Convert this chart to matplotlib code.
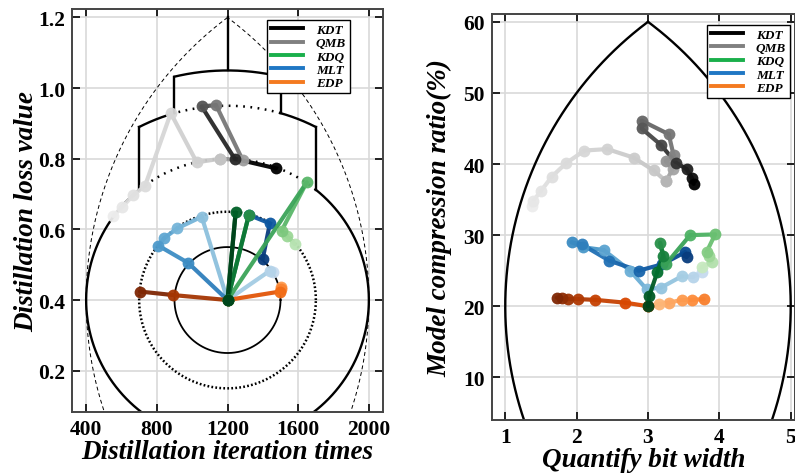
# Two panels: distillation trajectories (left) and quantization trajectories (right)

import numpy as np
import matplotlib.pyplot as plt
from matplotlib.lines import Line2D

plt.rcParams['font.family'] = ['Liberation Serif', 'DejaVu Serif']
plt.rcParams['font.weight'] = 'bold'

# ---- left panel data (iteration times, loss) ----
gray_light_iter = [554, 601, 667, 733, 879, 1026, 1158]
gray_light_loss = [0.638, 0.662, 0.697, 0.723, 0.929, 0.790, 0.800]
gray_dark_iter = [1158, 1286, 1135, 1054, 1241, 1474]
gray_dark_loss = [0.800, 0.796, 0.952, 0.948, 0.800, 0.773]

blue_iter = [1459, 1440, 1200, 1054, 916, 841, 809, 978, 1200]
blue_loss = [0.478, 0.483, 0.400, 0.636, 0.603, 0.575, 0.554, 0.505, 0.400]
blue2_iter = [1321, 1440, 1399]
blue2_loss = [0.641, 0.617, 0.516]

green_iter = [1581, 1534, 1506, 1648, 1200, 1321, 1200, 1246, 1200]
green_loss = [0.558, 0.582, 0.596, 0.733, 0.400, 0.641, 0.400, 0.648, 0.400]

orange_right_iter = [1500, 1500, 1497, 1200]
orange_right_loss = [0.436, 0.430, 0.424, 0.400]
orange_left_iter = [1200, 894, 705]
orange_left_loss = [0.400, 0.414, 0.424]

# ---- right panel data (bit width, compression ratio %) ----
gray_light_bits = [1.37, 1.39, 1.50, 1.65, 1.85, 2.11, 2.43, 2.80, 3.08, 3.25]
gray_light_ratio = [34.1, 34.8, 36.2, 38.2, 40.1, 41.9, 42.1, 40.9, 39.1, 37.6]
gray_dark_bits = [3.25, 3.35, 3.25, 3.36, 3.29, 2.91, 2.91, 3.18, 3.39, 3.54, 3.61, 3.64]
gray_dark_ratio = [37.6, 39.3, 40.4, 41.2, 44.2, 46.1, 45.0, 42.7, 40.2, 39.3, 38.1, 37.2]

blue_bits = [3.75, 3.63, 3.47, 3.18, 2.98, 2.75, 2.38, 2.09, 1.93, 2.07, 2.46, 2.87, 3.20, 3.52, 3.54]
blue_ratio = [24.8, 24.1, 24.2, 22.6, 22.4, 25.0, 27.9, 28.3, 29.0, 28.7, 26.4, 25.0, 25.9, 27.6, 26.9]

green_bits = [3.75, 3.89, 3.85, 3.82, 3.94, 3.59, 3.25, 3.17, 3.21, 3.13, 3.02, 3.00]
green_ratio = [25.5, 26.2, 27.1, 27.6, 30.1, 30.0, 25.9, 28.9, 27.1, 24.8, 21.5, 20.0]

orange_right_bits = [3.78, 3.61, 3.47, 3.30, 3.15, 3.00]
orange_right_ratio = [21.0, 20.9, 20.9, 20.5, 20.3, 20.0]
orange_left_bits = [3.00, 2.68, 2.26, 2.02, 1.88, 1.80, 1.72]
orange_left_ratio = [20.0, 20.5, 20.9, 21.0, 21.0, 21.1, 21.2]

legend_names = ['KDT', 'QMB', 'KDQ', 'MLT', 'EDP']
legend_colors = ['black', 'gray', '#1aaf4b', '#1f77c4', '#f47a20']


def draw_path(ax, xs, ys, cmap, lo, hi, lw=3.0, ms=8.5, z=3):
    n = len(xs)
    cols = plt.get_cmap(cmap)(np.linspace(lo, hi, n))
    for i in range(n - 1):
        ax.plot(xs[i:i + 2], ys[i:i + 2], color=cols[i + 1], lw=lw,
                solid_capstyle='round', alpha=0.95, zorder=z)
    for i in range(n):
        ax.plot(xs[i], ys[i], 'o', color=cols[i], ms=ms, mew=0, alpha=0.95, zorder=z + 0.5)


def arc(ax, cx, cy, r, a0, a1, ky, **kw):
    # circle drawn in "pixel-round" units: y radius = r / ky
    t = np.radians(np.linspace(a0, a1, 400))
    ax.plot(cx + r * np.cos(t), cy + r / ky * np.sin(t), **kw)


def style_axes(ax):
    ax.grid(True, color='#d9d9d9', lw=1.2, zorder=0)
    ax.set_axisbelow(True)
    ax.tick_params(direction='in', length=6, width=1.2, labelsize=15.5,
                   top=True, right=True, pad=5)
    for s in ax.spines.values():
        s.set_color('#444444')
        s.set_linewidth(1.4)
    for lab in ax.get_xticklabels() + ax.get_yticklabels():
        lab.set_fontweight('bold')


def add_legend(ax, anchor):
    handles = [Line2D([0], [0], color=c, lw=2.8) for c in legend_colors]
    leg = ax.legend(handles, legend_names, loc='upper right', bbox_to_anchor=anchor,
                    prop={'family': 'Liberation Serif', 'style': 'italic',
                          'weight': 'bold', 'size': 9.5},
                    frameon=True, fancybox=False, edgecolor='black', framealpha=1,
                    handlelength=2.4, labelspacing=0.08, borderpad=0.3,
                    handletextpad=1.0, borderaxespad=0)
    leg.get_frame().set_linewidth(1.0)
    leg.set_zorder(10)


fig = plt.figure(figsize=(7.95, 4.77), dpi=100)

# ================= left panel =================
ax1 = fig.add_axes([72 / 795, 1 - 413 / 477, 311 / 795, 403 / 477])
ky = 2000.0
cx, cy = 1200, 0.4
k = dict(color='black', zorder=2)
arc(ax1, cx, cy, 300, 0, 360, ky, lw=1.3, **k)
arc(ax1, cx, cy, 500, 0, 360, ky, lw=1.8, ls=(0, (0.7, 0.9)), **k)
a8 = np.degrees(np.arccos(500 / 800))
arc(ax1, cx, cy, 800, 180 - a8, 360 + a8, ky, lw=1.7, **k)
arc(ax1, cx, cy, 800, a8, 180 - a8, ky, lw=1.8, ls=(0, (0.7, 2.2)), **k)
a11o = np.degrees(np.arccos(500 / 1100))
a11i = np.degrees(np.arccos(300 / 1100))
arc(ax1, cx, cy, 1100, a11i, 180 - a11i, ky, lw=1.8, ls=(0, (0.7, 2.2)), **k)
arc(ax1, cx, cy, 1100, a11o, a11i, ky, lw=1.7, **k)
arc(ax1, cx, cy, 1100, 180 - a11i, 180 - a11o, ky, lw=1.7, **k)
a13 = np.degrees(np.arccos(300 / 1300))
arc(ax1, cx, cy, 1300, a13, 180 - a13, ky, lw=1.7, **k)
for d in (-300, 300):
    ax1.plot([cx + d, cx + d],
             [cy + np.sqrt(1100 ** 2 - d ** 2) / ky, cy + np.sqrt(1300 ** 2 - d ** 2) / ky],
             lw=1.7, **k)
for d in (-500, 500):
    ax1.plot([cx + d, cx + d],
             [cy + np.sqrt(800 ** 2 - d ** 2) / ky, cy + np.sqrt(1100 ** 2 - d ** 2) / ky],
             lw=1.7, **k)
ax1.plot([cx, cx], [cy + 1300 / ky, cy + 0.8], lw=1.7, **k)
# pointed arch (dashed)
arc(ax1, cx + 1200, cy, 2000, 126.87, 215, ky, lw=0.7, ls=(0, (4, 3)), **k)
arc(ax1, cx - 1200, cy, 2000, -35, 53.13, ky, lw=0.7, ls=(0, (4, 3)), **k)

draw_path(ax1, gray_light_iter, gray_light_loss, 'Greys', 0.15, 0.32)
draw_path(ax1, gray_dark_iter, gray_dark_loss, 'Greys', 0.35, 1.0)
draw_path(ax1, blue_iter, blue_loss, 'Blues', 0.25, 0.7)
draw_path(ax1, blue2_iter, blue2_loss, 'Blues', 0.75, 0.95)
draw_path(ax1, orange_right_iter, orange_right_loss, 'Oranges', 0.45, 0.7, z=4)
draw_path(ax1, orange_left_iter, orange_left_loss, 'Oranges', 0.75, 1.0, z=4)
draw_path(ax1, green_iter, green_loss, 'Greens', 0.3, 1.0, z=5)

ax1.set_xlim(320, 2080)
ax1.set_ylim(0.083, 1.224)
ax1.set_xticks([400, 800, 1200, 1600, 2000])
ax1.set_yticks([0.2, 0.4, 0.6, 0.8, 1.0, 1.2])
ax1.set_yticklabels(['0.2', '0.4', '0.6', '0.8', '1.0', '1.2'])
style_axes(ax1)
ax1.set_xlabel('Distillation iteration times', fontsize=19.5, fontstyle='italic',
               fontweight='bold', labelpad=0)
ax1.set_ylabel('Distillation loss value', fontsize=19.5, fontstyle='italic',
               fontweight='bold', labelpad=-1)
add_legend(ax1, (0.894, 0.973))

# ================= right panel =================
ax2 = fig.add_axes([491.7 / 795, 1 - 421 / 477, 1 - 491.7 / 795, 406 / 477])
ky2 = 0.1
arc(ax2, 6, 20, 5, 126.87, 215, ky2, lw=1.7, color='black', zorder=2)
arc(ax2, 0, 20, 5, -35, 53.13, ky2, lw=1.7, color='black', zorder=2)

draw_path(ax2, gray_light_bits, gray_light_ratio, 'Greys', 0.15, 0.35)
draw_path(ax2, gray_dark_bits, gray_dark_ratio, 'Greys', 0.4, 1.0)
draw_path(ax2, blue_bits, blue_ratio, 'Blues', 0.25, 0.95)
draw_path(ax2, orange_right_bits, orange_right_ratio, 'Oranges', 0.55, 0.3, z=4)
draw_path(ax2, orange_left_bits, orange_left_ratio, 'Oranges', 0.7, 1.0, z=4)
draw_path(ax2, green_bits, green_ratio, 'Greens', 0.25, 1.0, z=5)

ax2.set_xlim(0.81, 5.06)
ax2.set_ylim(4.0, 61.1)
ax2.set_xticks([1, 2, 3, 4, 5])
ax2.set_yticks([10, 20, 30, 40, 50, 60])
style_axes(ax2)
ax2.set_xlabel('Quantify bit width', fontsize=19.5, fontstyle='italic',
               fontweight='bold', labelpad=0)
ax2.set_ylabel('Model compression ratio(%)', fontsize=19.5, fontstyle='italic',
               fontweight='bold', labelpad=8)
add_legend(ax2, (0.9835, 0.974))

fig.savefig('out.png', dpi=100)
